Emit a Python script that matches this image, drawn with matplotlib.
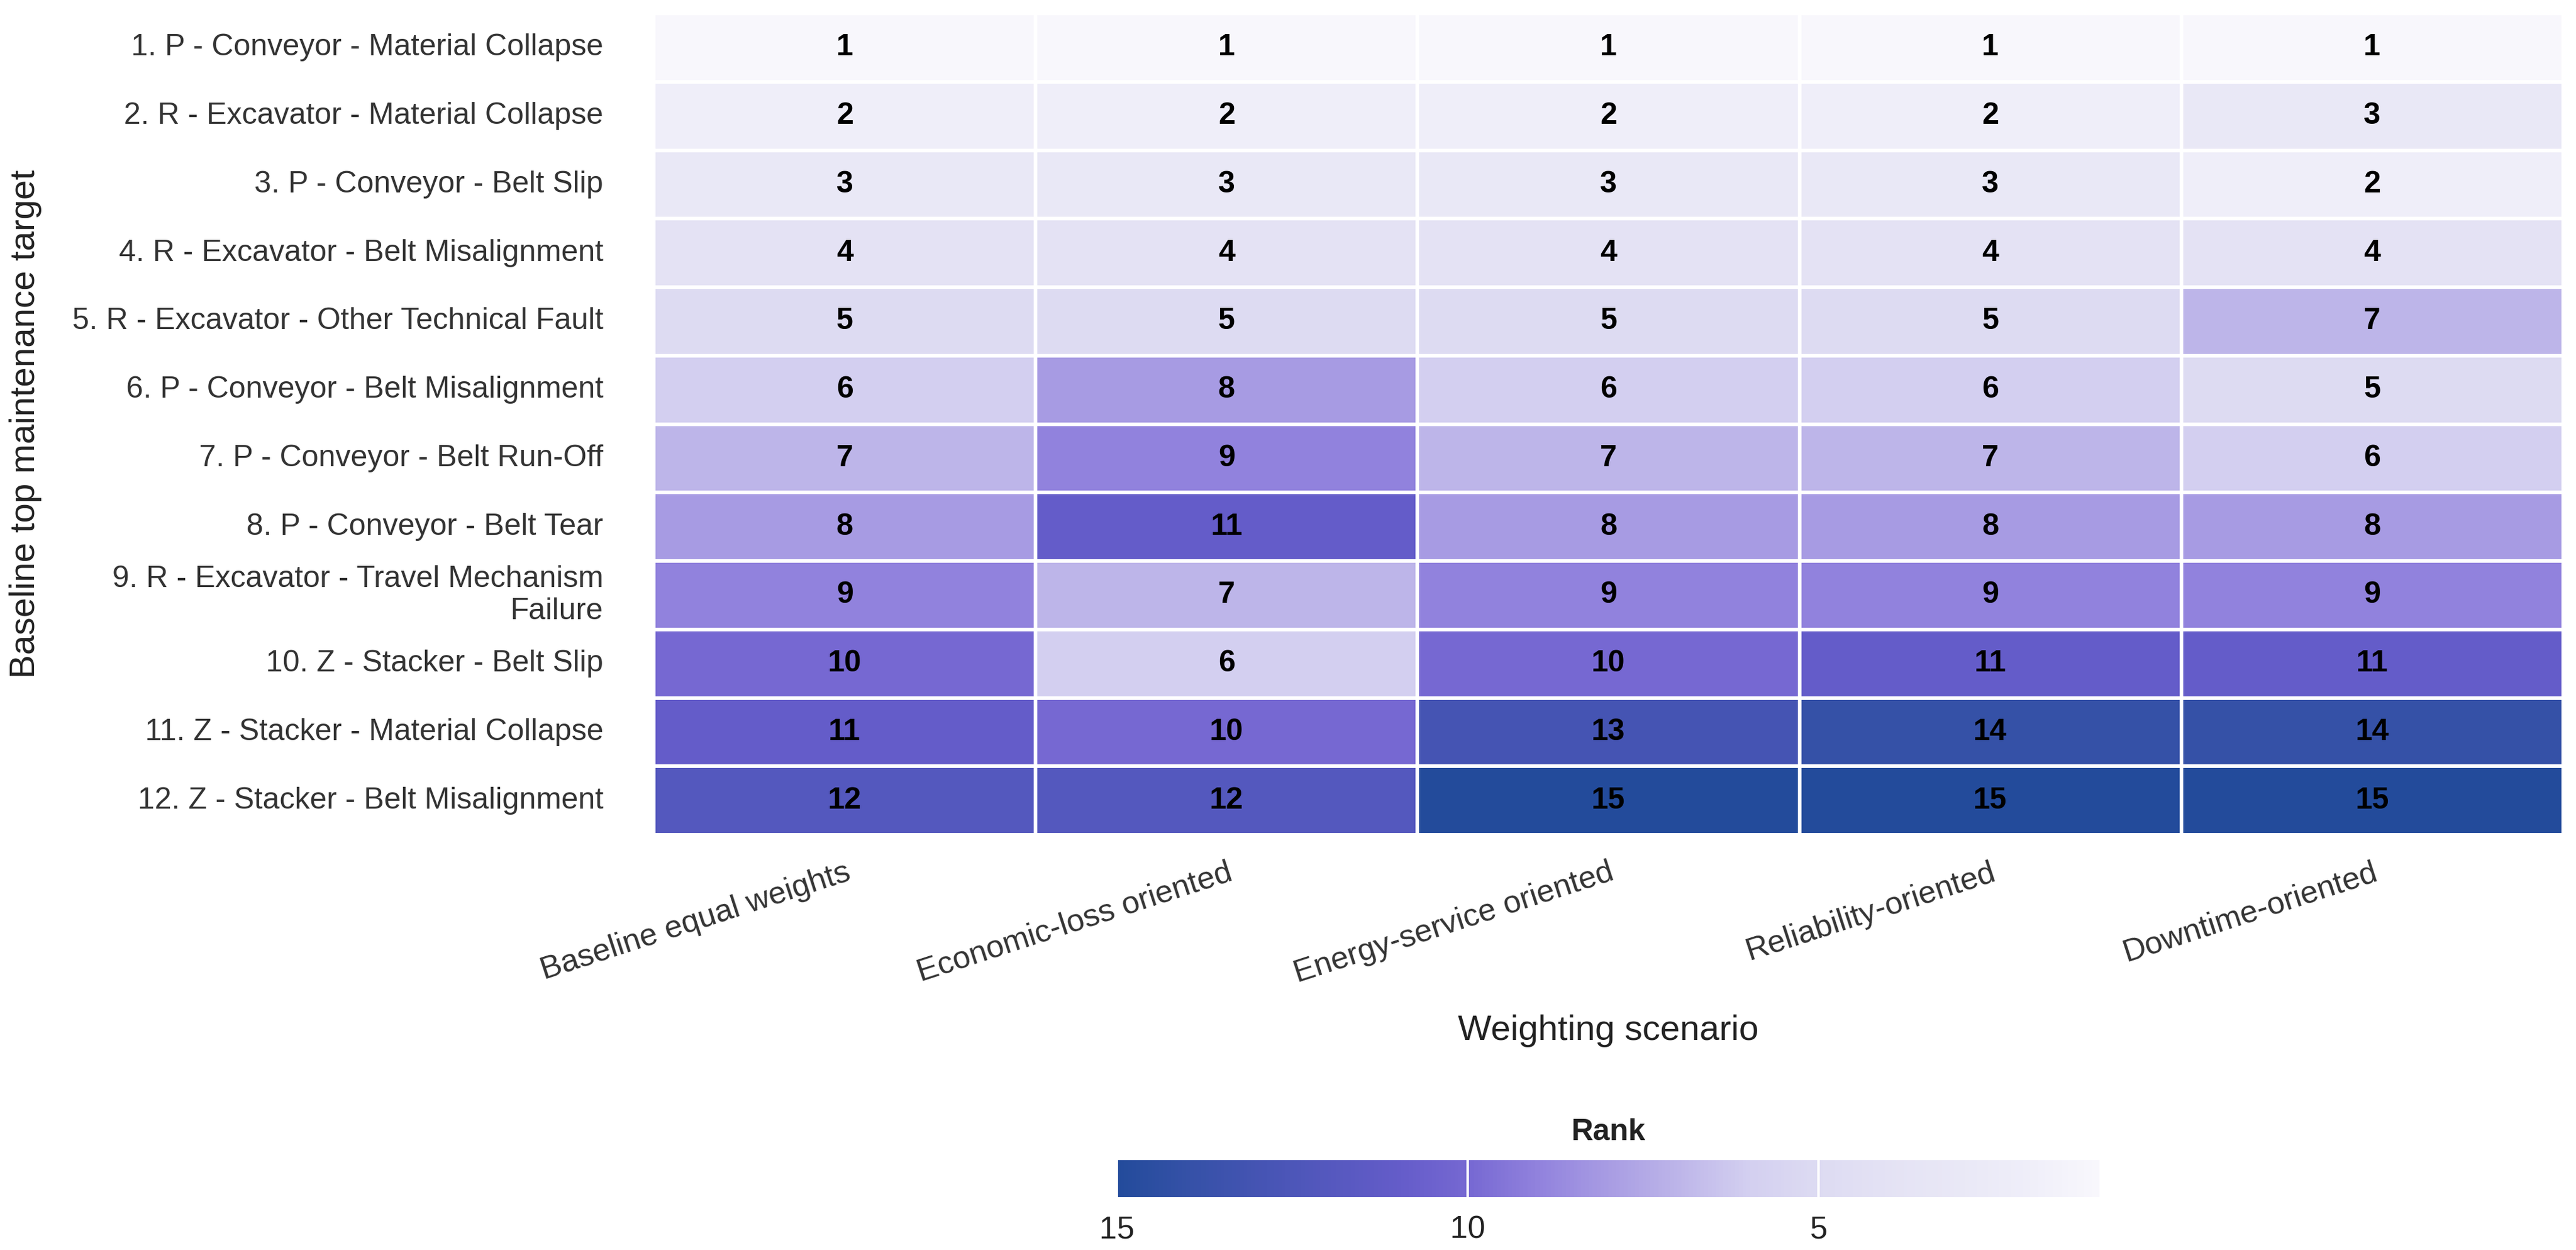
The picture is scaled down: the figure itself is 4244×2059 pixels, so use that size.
import numpy as np
import matplotlib
matplotlib.use("Agg")
import matplotlib.pyplot as plt
import seaborn as sns
from matplotlib.colors import LinearSegmentedColormap

targets = [
    "1. P - Conveyor - Material Collapse",
    "2. R - Excavator - Material Collapse",
    "3. P - Conveyor - Belt Slip",
    "4. R - Excavator - Belt Misalignment",
    "5. R - Excavator - Other Technical Fault",
    "6. P - Conveyor - Belt Misalignment",
    "7. P - Conveyor - Belt Run-Off",
    "8. P - Conveyor - Belt Tear",
    "9. R - Excavator - Travel Mechanism\nFailure",
    "10. Z - Stacker - Belt Slip",
    "11. Z - Stacker - Material Collapse",
    "12. Z - Stacker - Belt Misalignment",
]
scenarios = [
    "Baseline equal weights",
    "Economic-loss oriented",
    "Energy-service oriented",
    "Reliability-oriented",
    "Downtime-oriented",
]
baseline_equal = [1, 2, 3, 4, 5, 6, 7, 8, 9, 10, 11, 12]
economic_loss = [1, 2, 3, 4, 5, 8, 9, 11, 7, 6, 10, 12]
energy_service = [1, 2, 3, 4, 5, 6, 7, 8, 9, 10, 13, 15]
reliability = [1, 2, 3, 4, 5, 6, 7, 8, 9, 11, 14, 15]
downtime = [1, 3, 2, 4, 7, 5, 6, 8, 9, 11, 14, 15]

ranks = np.array([baseline_equal, economic_loss, energy_service, reliability, downtime]).T

# colormap sampled from rank 1 .. 15
cmap_colors = ["#f8f7fc", "#efeef9", "#e9e8f6", "#e4e2f4", "#dddbf2", "#d3cff0",
               "#bdb5e9", "#a89ce3", "#9182dd", "#7668d2", "#645cc9", "#5558be",
               "#4554b3", "#3551a7", "#234b9b"]
cmap = LinearSegmentedColormap.from_list("rank", cmap_colors)

sns.set_theme(style="white")
plt.rcParams['font.family'] = ['Liberation Sans', 'DejaVu Sans']

fig = plt.figure(figsize=(4244 / 300, 2059 / 300), dpi=300)
ax = fig.add_axes([0.2538, 0.3322, 0.995 - 0.2538, 0.9893 - 0.3322])
cax = fig.add_axes([0.4336, 0.0423, 0.8150 - 0.4336, 0.0296])

sns.heatmap(ranks, ax=ax, cmap=cmap, vmin=1, vmax=15, annot=True, fmt="d",
            annot_kws={"fontsize": 12, "fontweight": "bold", "color": "black"},
            linewidths=1, linecolor="white", cbar=True, cbar_ax=cax,
            cbar_kws={"orientation": "horizontal", "ticks": [15, 10, 5]},
            xticklabels=scenarios, yticklabels=targets)

ax.set_yticklabels(targets, rotation=0, fontsize=12, color="#333333")
ax.set_xticklabels(scenarios, rotation=18, ha="right", rotation_mode="anchor",
                   fontsize=12.5, color="#333333")
ax.tick_params(axis="y", length=0, pad=20)
ax.tick_params(axis="x", length=0, pad=9)
ax.set_xlabel("Weighting scenario", fontsize=14, color="#222222", labelpad=10)
ax.set_ylabel("Baseline top maintenance target", fontsize=14, color="#222222", labelpad=12)

cax.invert_xaxis()
cax.tick_params(length=0, labelsize=12.5, colors="#222222", pad=7)
cax.set_title("Rank", fontsize=12, fontweight="bold", color="#222222", pad=8)
cax.xaxis.grid(True, color="white", linewidth=1)
cax.set_axisbelow(False)
for s in cax.spines.values():
    s.set_visible(False)

fig.savefig("out.png", dpi=300)
